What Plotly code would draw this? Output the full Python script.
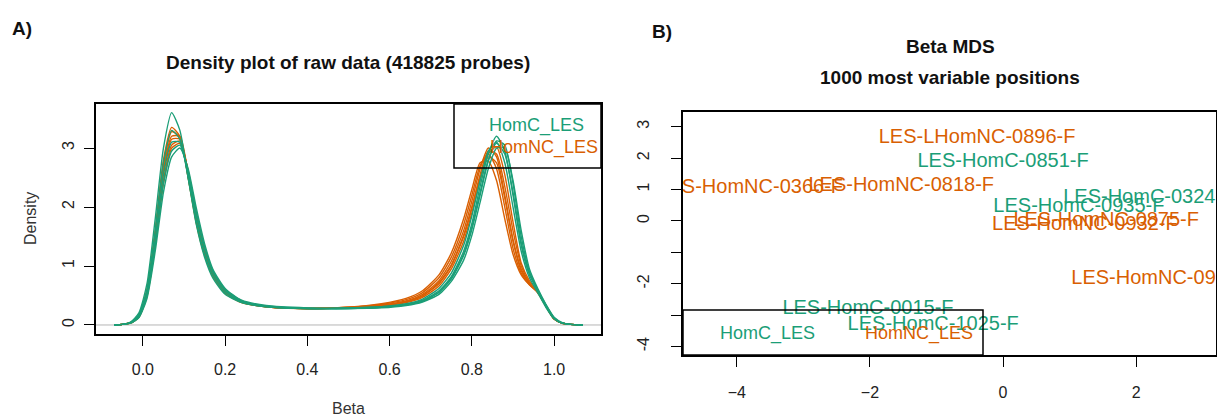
import plotly.graph_objects as go

W, H = 1217, 418
GREEN = "#1b9e77"
ORANGE = "#d95f02"
FONT = "Liberation Sans, Arial, sans-serif"

# ---------------- Panel A data: density curves ----------------
beta_grid = [-0.07, -0.05, -0.03, -0.01, 0.01, 0.03, 0.05, 0.07, 0.09, 0.11, 0.13, 0.15, 0.17,
             0.2, 0.24, 0.3, 0.4, 0.5, 0.58, 0.64, 0.68, 0.72, 0.75, 0.78, 0.8, 0.82, 0.84,
             0.86, 0.88, 0.9, 0.92, 0.94, 0.96, 0.98, 1.0, 1.02, 1.04, 1.07]

homnc_1 = [0.0, 0.01, 0.04, 0.16, 0.6, 1.6, 2.8, 3.35, 3.2, 2.5, 1.72, 1.18, 0.83, 0.54, 0.38, 0.31, 0.28, 0.3, 0.34, 0.41, 0.52, 0.75, 1.08, 1.6, 2.1, 2.65, 3.0, 2.85, 2.2, 1.45, 0.95, 0.7, 0.55, 0.32, 0.1, 0.03, 0.01, 0.0]
homnc_2 = [0.0, 0.01, 0.04, 0.16, 0.58, 1.55, 2.7, 3.28, 3.18, 2.52, 1.75, 1.2, 0.84, 0.55, 0.39, 0.31, 0.28, 0.3, 0.35, 0.43, 0.55, 0.8, 1.15, 1.7, 2.2, 2.7, 2.9, 2.65, 2.0, 1.3, 0.88, 0.68, 0.56, 0.33, 0.1, 0.03, 0.01, 0.0]
homnc_3 = [0.0, 0.01, 0.04, 0.15, 0.55, 1.5, 2.62, 3.2, 3.2, 2.58, 1.8, 1.24, 0.86, 0.56, 0.39, 0.31, 0.28, 0.29, 0.33, 0.4, 0.5, 0.72, 1.02, 1.52, 2.0, 2.5, 2.85, 2.75, 2.15, 1.42, 0.92, 0.7, 0.56, 0.33, 0.11, 0.03, 0.01, 0.0]
homnc_4 = [0.0, 0.01, 0.04, 0.15, 0.55, 1.48, 2.58, 3.15, 3.15, 2.58, 1.82, 1.25, 0.87, 0.57, 0.4, 0.31, 0.28, 0.3, 0.36, 0.45, 0.58, 0.85, 1.22, 1.8, 2.3, 2.75, 2.78, 2.45, 1.8, 1.2, 0.85, 0.68, 0.55, 0.32, 0.1, 0.03, 0.01, 0.0]
homnc_5 = [0.0, 0.01, 0.03, 0.13, 0.5, 1.4, 2.45, 3.05, 3.12, 2.6, 1.88, 1.3, 0.9, 0.59, 0.4, 0.32, 0.28, 0.29, 0.32, 0.38, 0.47, 0.66, 0.95, 1.42, 1.9, 2.45, 2.9, 3.02, 2.55, 1.75, 1.05, 0.75, 0.57, 0.33, 0.11, 0.03, 0.01, 0.0]
homnc_6 = [0.0, 0.01, 0.03, 0.13, 0.48, 1.35, 2.4, 3.0, 3.08, 2.62, 1.9, 1.32, 0.91, 0.6, 0.41, 0.32, 0.28, 0.29, 0.33, 0.39, 0.49, 0.7, 1.0, 1.5, 1.98, 2.55, 2.95, 2.9, 2.35, 1.6, 1.0, 0.72, 0.56, 0.32, 0.1, 0.03, 0.01, 0.0]

homc_1 = [0.0, 0.01, 0.05, 0.2, 0.7, 1.8, 3.0, 3.6, 3.3, 2.5, 1.7, 1.15, 0.8, 0.52, 0.38, 0.31, 0.28, 0.29, 0.31, 0.36, 0.44, 0.62, 0.88, 1.35, 1.85, 2.45, 2.95, 3.1, 2.75, 2.0, 1.25, 0.8, 0.55, 0.3, 0.1, 0.03, 0.01, 0.0]
homc_2 = [0.0, 0.01, 0.04, 0.17, 0.6, 1.6, 2.75, 3.3, 3.15, 2.5, 1.75, 1.2, 0.85, 0.55, 0.39, 0.31, 0.28, 0.29, 0.31, 0.35, 0.42, 0.58, 0.82, 1.25, 1.72, 2.35, 2.9, 3.2, 2.95, 2.2, 1.35, 0.85, 0.58, 0.32, 0.11, 0.03, 0.01, 0.0]
homc_3 = [0.0, 0.01, 0.04, 0.15, 0.55, 1.45, 2.55, 3.1, 3.1, 2.55, 1.85, 1.28, 0.9, 0.58, 0.4, 0.32, 0.28, 0.28, 0.3, 0.34, 0.4, 0.55, 0.78, 1.18, 1.62, 2.2, 2.78, 3.12, 3.05, 2.4, 1.5, 0.9, 0.6, 0.33, 0.12, 0.03, 0.01, 0.0]
homc_4 = [0.0, 0.01, 0.03, 0.13, 0.5, 1.35, 2.4, 2.95, 3.05, 2.6, 1.9, 1.32, 0.92, 0.6, 0.41, 0.32, 0.28, 0.28, 0.3, 0.34, 0.41, 0.56, 0.8, 1.2, 1.66, 2.25, 2.8, 3.08, 2.9, 2.25, 1.4, 0.88, 0.6, 0.34, 0.12, 0.03, 0.01, 0.0]
homc_5 = [0.0, 0.01, 0.03, 0.12, 0.45, 1.25, 2.25, 2.85, 3.0, 2.65, 1.98, 1.38, 0.95, 0.62, 0.42, 0.33, 0.29, 0.28, 0.29, 0.33, 0.39, 0.52, 0.74, 1.1, 1.52, 2.08, 2.65, 3.0, 3.0, 2.45, 1.6, 0.95, 0.62, 0.35, 0.13, 0.04, 0.01, 0.0]

homnc_curves = [homnc_1, homnc_2, homnc_3, homnc_4, homnc_5, homnc_6]
homc_curves = [homc_1, homc_2, homc_3, homc_4, homc_5]

density_xticks = [0.0, 0.2, 0.4, 0.6, 0.8, 1.0]
density_xticktext = ["0.0", "0.2", "0.4", "0.6", "0.8", "1.0"]
density_yticks = [0, 1, 2, 3]

# ---------------- Panel B data: MDS ----------------
homc_labels = ["LES-HomC-0851-F", "LES-HomC-0324-F", "LES-HomC-0935-F", "LES-HomC-0015-F", "LES-HomC-1025-F"]
homc_dim1 = [0.0, 2.19, 1.14, -2.03, -1.05]
homc_dim2 = [1.87, 0.73, 0.45, -2.80, -3.31]

homnc_labels = ["LES-LHomNC-0896-F", "LES-HomNC-0366-F", "LES-HomNC-0818-F", "LES-HomNC-0932-F",
                "LES-HomNC-0875-F", "LES-HomNC-0908-F"]
homnc_dim1 = [-0.39, -3.8, -1.53, 1.23, 1.55, 2.42]
homnc_dim2 = [2.64, 1.05, 1.12, -0.12, 0.0, -1.85]

mds_xticks = [-4, -2, 0, 2]
mds_yticks = [3, 2, 1, 0, -1, -2, -3, -4]
mds_yticktext = ["3", "2", "1", "0", "", "-2", "", "-4"]

legend_groups = ["HomC_LES", "HomNC_LES"]

# ---------------- Figure ----------------
fig = go.Figure()

for curve in homnc_curves:
    fig.add_trace(go.Scatter(x=beta_grid, y=curve, mode="lines",
                             line=dict(color=ORANGE, width=1.4, shape="spline", smoothing=0.6),
                             xaxis="x", yaxis="y", showlegend=False, hoverinfo="skip"))
for curve in homc_curves:
    fig.add_trace(go.Scatter(x=beta_grid, y=curve, mode="lines",
                             line=dict(color=GREEN, width=1.4, shape="spline", smoothing=0.6),
                             xaxis="x", yaxis="y", showlegend=False, hoverinfo="skip"))

fig.add_trace(go.Scatter(x=homnc_dim1, y=homnc_dim2, text=homnc_labels, mode="text",
                         textposition="middle center", cliponaxis=True,
                         textfont=dict(color=ORANGE, size=20, family=FONT),
                         xaxis="x2", yaxis="y2", showlegend=False))
fig.add_trace(go.Scatter(x=homc_dim1, y=homc_dim2, text=homc_labels, mode="text",
                         textposition="middle center", cliponaxis=True,
                         textfont=dict(color=GREEN, size=20, family=FONT),
                         xaxis="x2", yaxis="y2", showlegend=False))

def px(x):
    return x / W

def py(y):
    return 1 - y / H

axis_common = dict(showline=True, mirror=True, linecolor="black", linewidth=1.5,
                   ticks="outside", ticklen=10, tickwidth=1.3, tickcolor="black",
                   showgrid=False, zeroline=False,
                   tickfont=dict(family=FONT, size=16, color="#222"))

fig.update_layout(
    width=W, height=H,
    margin=dict(l=0, r=0, t=0, b=0),
    paper_bgcolor="white", plot_bgcolor="white",
    font=dict(family=FONT, color="#222"),
    xaxis=dict(domain=[px(96), px(601)], range=[-0.114, 1.114], anchor="y",
               tickvals=density_xticks, ticktext=density_xticktext, ticklabelstandoff=10, **axis_common),
    yaxis=dict(domain=[1 - 334 / H, 1 - 104 / H], range=[-0.153, 3.747], anchor="x",
               tickvals=density_yticks, tickangle=-90, ticklabelstandoff=4, **axis_common),
    xaxis2=dict(domain=[px(683), px(1216)], range=[-4.81, 3.20], anchor="y2",
                tickvals=mds_xticks, ticklabelstandoff=12, **axis_common),
    yaxis2=dict(domain=[1 - 355 / H, 1 - 112 / H], range=[-4.27, 3.47], anchor="x2",
                tickvals=mds_yticks, ticktext=mds_yticktext, tickangle=-90, ticklabelstandoff=16,
                **axis_common),
)

shapes = [
    dict(type="line", xref="x domain", yref="y", x0=0, x1=1, y0=0, y1=0,
         line=dict(color="#b5b5b5", width=1), layer="below"),
    dict(type="rect", xref="paper", yref="paper", x0=px(454), x1=px(601), y0=py(168), y1=py(104),
         line=dict(color="black", width=1.5)),
    dict(type="rect", xref="paper", yref="paper", x0=px(683), x1=px(983), y0=py(355), y1=py(310),
         line=dict(color="black", width=1.5)),
]
fig.update_layout(shapes=shapes)

def ann(text, x, y, size, bold=False, color="#111", xanchor="center", angle=0):
    return dict(text=f"<b>{text}</b>" if bold else text, x=px(x), y=py(y), xref="paper", yref="paper",
                showarrow=False, xanchor=xanchor, yanchor="middle", textangle=angle,
                font=dict(family=FONT, size=size, color=color))

annotations = [
    ann("A)", 22, 28, 19, bold=True, xanchor="center"),
    ann("B)", 662, 32, 19, bold=True, xanchor="center"),
    ann("Density plot of raw data (418825 probes)", 348, 62, 19, bold=True),
    ann("Beta MDS", 950, 46, 19, bold=True),
    ann("1000 most variable positions", 950, 77, 19, bold=True),
    ann("Beta", 348, 408, 16, color="#333"),
    ann("Density", 30, 219, 16, color="#333", angle=-90),
    ann(legend_groups[0], 487, 125, 18, color=GREEN, xanchor="left"),
    ann(legend_groups[1], 488, 147, 18, color=ORANGE, xanchor="left"),
    ann(legend_groups[0], 718, 333, 18, color=GREEN, xanchor="left"),
    ann(legend_groups[1], 863, 333, 18, color=ORANGE, xanchor="left"),
]
fig.update_layout(annotations=annotations)

fig.write_html("out.html", config={"displayModeBar": False},
               post_script="document.body.style.margin='0';document.body.style.overflow='hidden';")
